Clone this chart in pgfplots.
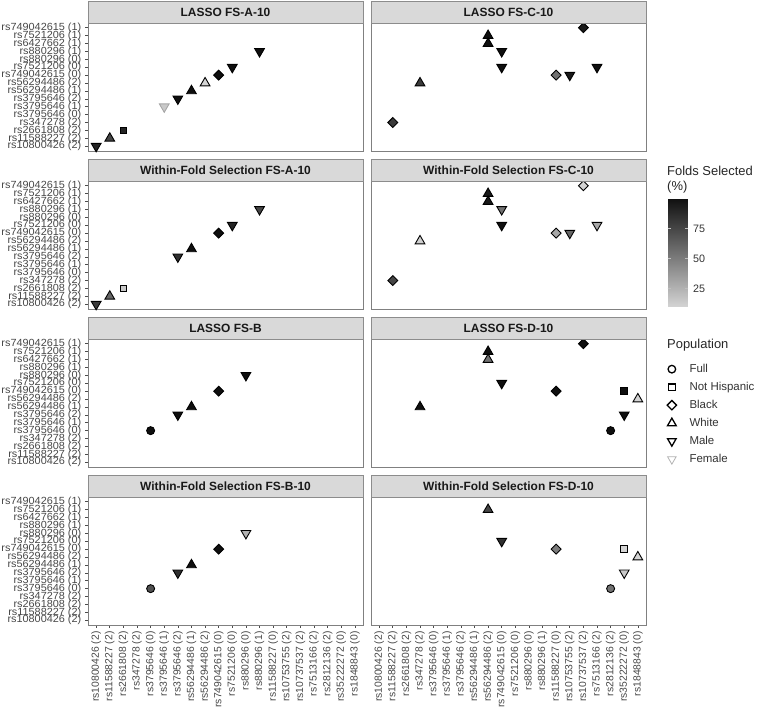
\documentclass[border=0pt]{standalone}
\usepackage{fontspec}
\setmainfont{Liberation Sans}
\usepackage{pgfplots}
\pgfplotsset{compat=1.18}

\definecolor{stripfill}{RGB}{217,217,217}

\pgfplotsset{
  colormap={folds}{rgb255(0cm)=(212,212,212); rgb255(1cm)=(15,15,15)},
  facet/.style={
    width=275bp, height=128bp, scale only axis,
    xmin=-0.6, xmax=19.6, ymin=-0.6, ymax=15.6,
    axis line style={black!50, line width=0.8bp},
    tick align=outside, major tick length=3bp,
    tick style={black!70, line width=0.6bp},
    tick pos=left, xtick=\empty, ytick=\empty, clip=false,
    point meta min=10, point meta max=100,
    every axis title/.style={at={(0.5,1)}, anchor=south, yshift=-0.4bp, fill=stripfill,
      draw=black!45, line width=0.8bp, minimum width=275bp, minimum height=21.5bp,
      inner sep=0pt, font=\fontsize{12}{12}\selectfont\bfseries, text=black!90},
    ticklabel style={font=\fontsize{10.4}{10}\selectfont, text=black!72},
  },
  ylab/.style={ytick={0,...,15},
    yticklabel style={xscale=1.05},
    yticklabels={rs10800426 (2), rs11588227 (2), rs2661808 (2), rs347278 (2),
      rs3795646 (0), rs3795646 (1), rs3795646 (2), rs56294486 (1), rs56294486 (2),
      rs749042615 (0), rs7521206 (0), rs880296 (0), rs880296 (1), rs6427662 (1),
      rs7521206 (1), rs749042615 (1)}},
  xlab/.style={xtick={0,...,19},
    xticklabels={rs10800426 (2), rs11588227 (2), rs2661808 (2), rs347278 (2),
      rs3795646 (0), rs3795646 (1), rs3795646 (2), rs56294486 (1), rs56294486 (2),
      rs749042615 (0), rs7521206 (0), rs880296 (0), rs880296 (1), rs11588227 (0),
      rs10753755 (2), rs10737537 (2), rs7513166 (2), rs2812136 (2), rs35222272 (0),
      rs1848843 (0)},
    xticklabel style={rotate=90, anchor=east}},
  pt/.style={only marks, scatter, point meta=explicit,
    scatter/use mapped color={draw=black, fill=mapped color}, line width=0.9bp},
  pFull/.style={pt, mark=*, mark size=4bp},
  pNH/.style={pt, mark=square*, mark size=3.4bp},
  pBlk/.style={pt, mark=square*, mark size=3.5bp, mark options={rotate=45}},
  pWht/.style={pt, mark=triangle*, mark size=5.6bp},
  pMale/.style={pt, mark=triangle*, mark size=5.6bp, mark options={rotate=180}},
  pFem/.style={pMale, scatter/use mapped color={draw=black!35, fill=mapped color}},
}

\begin{document}
\begin{tikzpicture}[x=1bp, y=1bp]
\path[use as bounding box] (0,0) rectangle (762,718);

% row 1
\begin{axis}[facet, ylab, at={(88bp,567bp)}, anchor=south west, title={LASSO FS-A-10}]
  \addplot[pMale] coordinates {(0,0) [90] (6,6) [100] (10,10) [100] (12,12) [100]};
  \addplot[pWht] coordinates {(1,1) [75] (7,7) [100] (8,8) [10]};
  \addplot[pNH] coordinates {(2,2) [90]};
  \addplot[pFem] coordinates {(5,5) [15]};
  \addplot[pBlk] coordinates {(9,9) [100]};
\end{axis}
\begin{axis}[facet, at={(371bp,567bp)}, anchor=south west, title={LASSO FS-C-10}]
  \addplot[pBlk] coordinates {(1,3) [80] (13,9) [55] (15,15) [95]};
  \addplot[pWht] coordinates {(3,8) [80] (8,14) [100] (8,13) [100]};
  \addplot[pMale] coordinates {(9,12) [100] (9,10) [100] (14,9) [95] (16,10) [100]};
\end{axis}

% row 2
\begin{axis}[facet, ylab, at={(88bp,409bp)}, anchor=south west, title={Within-Fold Selection FS-A-10}]
  \addplot[pMale] coordinates {(0,0) [80] (6,6) [85] (10,10) [90] (12,12) [75]};
  \addplot[pWht] coordinates {(1,1) [60] (7,7) [100]};
  \addplot[pNH] coordinates {(2,2) [15]};
  \addplot[pBlk] coordinates {(9,9) [100]};
\end{axis}
\begin{axis}[facet, at={(371bp,409bp)}, anchor=south west, title={Within-Fold Selection FS-C-10}]
  \addplot[pBlk] coordinates {(1,3) [75] (13,9) [30] (15,15) [10]};
  \addplot[pWht] coordinates {(3,8) [12] (8,14) [95] (8,13) [95]};
  \addplot[pMale] coordinates {(9,12) [55] (9,10) [100] (14,9) [60] (16,10) [30]};
\end{axis}

% row 3
\begin{axis}[facet, ylab, at={(88bp,251bp)}, anchor=south west, title={LASSO FS-B}]
  \addplot[pFull] coordinates {(4,4) [100]};
  \addplot[pMale] coordinates {(6,6) [100] (11,11) [100]};
  \addplot[pWht] coordinates {(7,7) [100]};
  \addplot[pBlk] coordinates {(9,9) [100]};
\end{axis}
\begin{axis}[facet, at={(371bp,251bp)}, anchor=south west, title={LASSO FS-D-10}]
  \addplot[pWht] coordinates {(3,7) [100] (8,14) [100] (8,13) [55] (19,8) [10]};
  \addplot[pMale] coordinates {(9,10) [100] (18,6) [100]};
  \addplot[pBlk] coordinates {(13,9) [100] (15,15) [100]};
  \addplot[pNH] coordinates {(18,9) [100]};
  \addplot[pFull] coordinates {(17,4) [100]};
\end{axis}

% row 4
\begin{axis}[facet, ylab, xlab, at={(88bp,93bp)}, anchor=south west, title={Within-Fold Selection FS-B-10}]
  \addplot[pFull] coordinates {(4,4) [70]};
  \addplot[pMale] coordinates {(6,6) [85] (11,11) [25]};
  \addplot[pWht] coordinates {(7,7) [100]};
  \addplot[pBlk] coordinates {(9,9) [100]};
\end{axis}
\begin{axis}[facet, xlab, at={(371bp,93bp)}, anchor=south west, title={Within-Fold Selection FS-D-10}]
  \addplot[pWht] coordinates {(8,14) [75] (19,8) [10]};
  \addplot[pMale] coordinates {(9,10) [85] (18,6) [15]};
  \addplot[pBlk] coordinates {(13,9) [50]};
  \addplot[pNH] coordinates {(18,9) [10]};
  \addplot[pFull] coordinates {(17,4) [55]};
\end{axis}

% colour bar and population legend
\begin{axis}[at={(667.7bp,411.3bp)}, anchor=south west,
    width=20.6bp, height=108.4bp, scale only axis, view={0}{90},
    xmin=0, xmax=1, ymin=10, ymax=100, zmin=-1, zmax=1,
    axis line style={draw=none}, xtick=\empty, ztick=\empty,
    ytick={25,50,75}, ytick pos=both, yticklabel pos=right,
    tick align=inside, major tick length=3.5bp,
    tick style={white!75!black, line width=0.6bp},
    /pgf/number format/assume math mode=true,
    yticklabel style={font=\fontsize{10.8}{10}\selectfont, text=black!80, inner sep=0pt, xshift=4.7bp},
    point meta min=10, point meta max=100,
    legend style={at={(-0.18,-0.51)}, anchor=north west, draw=none, fill=none,
      font=\fontsize{11.5}{11}\selectfont, text=black!80, row sep=8bp,
      nodes={inner sep=0pt, text height=8bp, text depth=2bp},
      /tikz/column sep=13bp},
    legend cell align=left]
  \addplot3[surf, shader=interp, mesh/cols=2, point meta=y, forget plot]
    coordinates {(0,10,0) (1,10,0) (0,100,0) (1,100,0)};
  \addlegendimage{only marks, mark=o, mark size=3.8bp, line width=1.3bp, black}
  \addlegendimage{only marks, mark=square, mark size=3.3bp, line width=1.3bp, black}
  \addlegendimage{only marks, mark=square, mark size=3.3bp, line width=1.3bp, black, mark options={rotate=45}}
  \addlegendimage{only marks, mark=triangle, mark size=5bp, line width=1.3bp, black}
  \addlegendimage{only marks, mark=triangle, mark size=5bp, line width=1.3bp, black, mark options={rotate=180}}
  \addlegendimage{only marks, mark=triangle, mark size=5bp, line width=0.8bp, black!30, mark options={rotate=180}}
  \legend{Full, Not Hispanic, Black, White, Male, Female}
\end{axis}

\node[anchor=west, inner sep=0pt, font=\fontsize{13}{13}\selectfont, text=black!85] at (667,547.3) {Folds Selected};
\node[anchor=west, inner sep=0pt, font=\fontsize{13}{13}\selectfont, text=black!85] at (667,530.7) {(\%)};
\node[anchor=west, inner sep=0pt, font=\fontsize{13}{13}\selectfont, text=black!85] at (667,373) {Population};
\end{tikzpicture}
\end{document}
